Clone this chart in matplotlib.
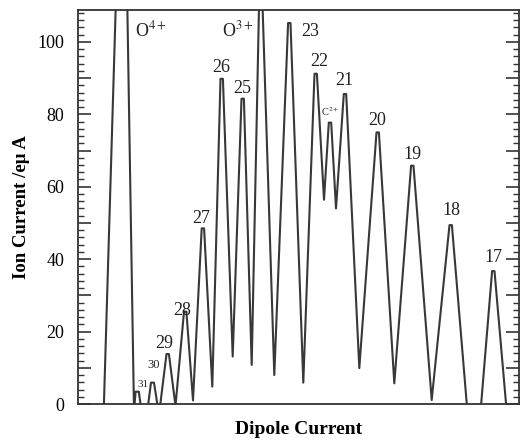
import matplotlib
matplotlib.use("Agg")
import matplotlib.pyplot as plt
from matplotlib.ticker import MultipleLocator

plt.rcParams['font.family'] = ['Liberation Serif', 'DejaVu Serif']
plt.rcParams['mathtext.fontset'] = 'stix'

# dipole current (arbitrary units, no scale on the original) and ion current (e uA)
dipole = [103.6, 123.2, 134.0, 135.6, 138.8, 144.5, 151.0, 154.0, 159.0,
          166.5, 168.9, 175.5, 184.0, 186.4, 193.0, 201.7, 204.1, 212.3,
          220.5, 222.9, 232.7, 241.5, 243.9, 251.7, 260.4, 274.3,
          288.1, 290.5, 303.3, 314.5, 316.9, 324.0, 328.8, 331.2, 336.0,
          343.8, 346.2, 359.3, 376.5, 378.9, 394.3, 411.1, 413.5, 431.7,
          449.5, 451.9, 474.0, 492.1, 494.5, 507.0]
ion_current = [-3, 179, -2, 3.4, 3.4, -8, 5.9, 5.9, -3,
               13.8, 13.8, -0.5, 25.5, 25.5, 1.0, 48.5, 48.5, 4.8,
               89.8, 89.8, 13.1, 84.3, 84.3, 10.8, 128.5, 8.0,
               105.2, 105.2, 5.9, 91.2, 91.2, 56.4, 77.7, 77.7, 54.0,
               85.6, 85.6, 9.9, 75.0, 75.0, 5.7, 65.8, 65.8, 1.1,
               49.4, 49.4, -24, 36.7, 36.7, -3]

# charge state labels
charge_labels = ['31', '30', '29', '28', '27', '26', '25', '23', '22', '21', '20', '19', '18', '17']
label_x = [143.3, 153.3, 164.5, 182.0, 201.0, 221.7, 242.5, 310.5, 318.8, 344.5, 377.5, 412.0, 451.7, 493.3]
label_y = [4.8, 9.9, 15.4, 24.6, 50.1, 91.8, 86.0, 101.7, 93.2, 88.1, 77.1, 67.6, 52.2, 39.3]
label_size = [8, 9, 13, 13, 13, 13, 13, 13, 13, 13, 13, 13, 13, 13]

fig = plt.figure(figsize=(5.26, 4.44), dpi=100)
ax = fig.add_axes([78/526, 40/444, 441/526, 394/444])

ax.plot(dipole, ion_current, color='#383838', lw=1.5,
        solid_joinstyle='round', solid_capstyle='round')

for lab, x, y, s in zip(charge_labels, label_x, label_y, label_size):
    ax.text(x, y, lab, ha='center', va='baseline', fontsize=s, color='#222222')

ax.text(135, 101.4, 'O$^{4+}$', ha='left', va='baseline', fontsize=13, color='#222222')
ax.text(222, 101.5, 'O$^{3+}$', ha='left', va='baseline', fontsize=13, color='#222222')
ax.text(321, 79.4, 'C$^{2+}$', ha='left', va='baseline', fontsize=7.5, color='#222222')

ax.set_xlim(78, 519)
ax.set_ylim(0, 108.8)
ax.set_xticks([])
ax.yaxis.set_minor_locator(MultipleLocator(2))
ax.set_yticks(range(0, 101, 10))
ax.set_yticklabels([str(v) if v % 20 == 0 else '' for v in range(0, 101, 10)])
ax.tick_params(axis='y', which='major', direction='in', length=9.5, width=1.2,
               left=True, right=True, labelsize=13, pad=10, color='#333333')
ax.tick_params(axis='y', which='minor', direction='in', length=4.5, width=1.0,
               left=True, right=True, color='#333333')
for sp in ax.spines.values():
    sp.set_color('#333333')
    sp.set_linewidth(1.3)

ax.set_ylabel('Ion Current /e\u03bc A', fontsize=13.5, fontweight='bold', labelpad=5)
ax.set_xlabel('Dipole Current', fontsize=14, fontweight='bold', labelpad=12)

fig.savefig('out.png', dpi=100)
